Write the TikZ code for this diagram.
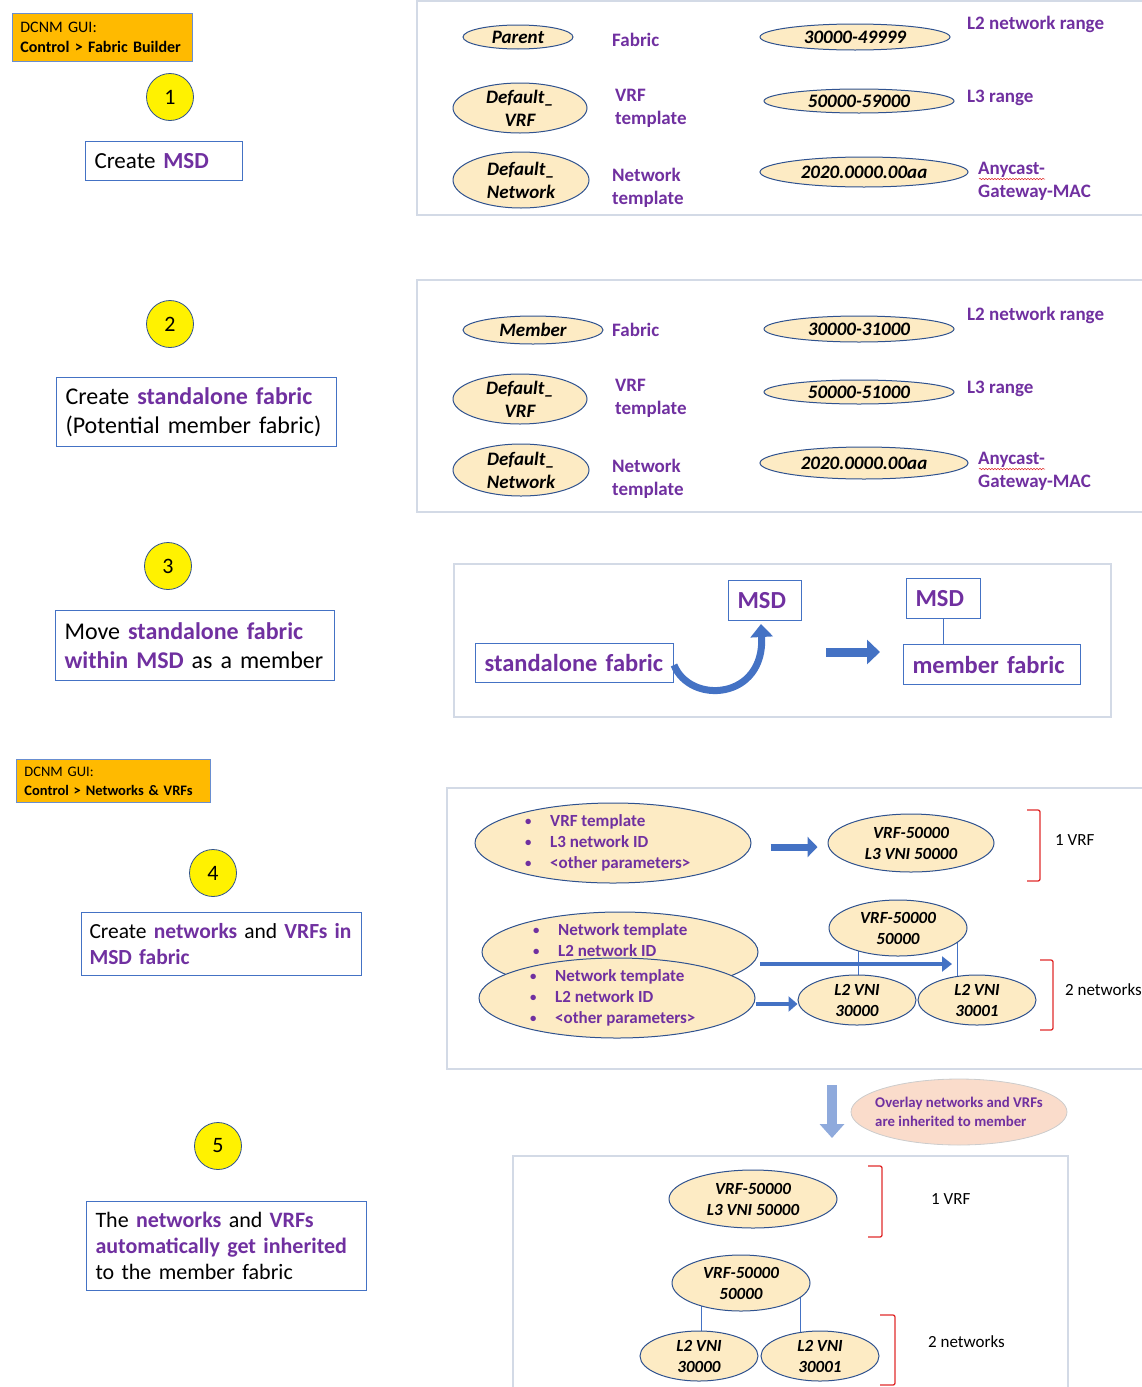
\documentclass[tikz,border=0pt]{standalone}
\usepackage{fontspec}
\setmainfont{Carlito}
\usetikzlibrary{shapes.geometric,arrows.meta,decorations.pathmorphing}
\definecolor{purp}{HTML}{7030A0}
\definecolor{bblue}{HTML}{4472C4}
\definecolor{dblue}{HTML}{2F528F}
\definecolor{tanf}{HTML}{FDEBC4}
\definecolor{orng}{HTML}{FFBA00}
\definecolor{panelc}{HTML}{D3DAE6}
\definecolor{redb}{HTML}{E02B2B}
\definecolor{palebl}{HTML}{8FAADC}
\definecolor{pinkf}{HTML}{FADCCB}
\pgfdeclarelayer{bg}
\pgfsetlayers{bg,main}
\newcommand\bul{\makebox[25pt][l]{\raisebox{1pt}{\scalebox{0.75}{\textbullet}}}}
\newcommand\pb[1]{\textcolor{purp}{\textbf{#1}}}
\begin{document}
\begin{tikzpicture}[x=1pt,y=-1pt,
 ell/.style={ellipse, draw=dblue, line width=1pt, fill=tanf, inner sep=0pt},
 ellt/.style={inner sep=0pt, align=center, font=\fontsize{19}{23}\selectfont\bfseries\itshape},
 ellu/.style={inner sep=0pt, align=center, font=\fontsize{17}{21}\selectfont\bfseries\itshape},
 lab/.style={anchor=west, inner sep=0pt, align=left, text=purp, font=\fontsize{19}{23}\selectfont\bfseries},
 box/.style={anchor=north west, draw=bblue, line width=1pt, fill=white, align=left, inner xsep=9pt, inner ysep=0pt},
 hdr/.style={anchor=north west, draw=bblue!80, line width=0.8pt, fill=orng, align=left, inner xsep=8pt, inner ysep=0pt},
 circ/.style={circle, draw=dblue, line width=0.8pt, fill=yellow, minimum size=47pt, inner sep=0pt, font=\fontsize{22}{22}\selectfont},
 panel/.style={draw=panelc, line width=1.5pt},
 blt/.style={anchor=west, inner sep=0pt, align=left, text=purp, font=\fontsize{17}{21}\selectfont\bfseries},
 bracket/.style={draw=redb, line width=1.3pt, rounded corners=2pt},
 note/.style={anchor=west, inner sep=0pt, font=\fontsize{17}{20}\selectfont},
 link/.style={draw=bblue, line width=0.9pt},
 wavy/.style={draw=redb, line width=0.5pt, decorate, decoration={snake, amplitude=0.7pt, segment length=3pt}},
 mbox/.style={draw=bblue, line width=1pt, fill=white, inner xsep=9pt, inner ysep=0pt, text=purp, font=\fontsize{24.5}{28}\selectfont\bfseries, anchor=north west, align=left}
]
\useasboundingbox (0,0) rectangle (1142,1387);
\clip (0,0) rectangle (1142,1387);

% ---------- left column ----------
\node[hdr, text width=164pt, minimum height=48pt, font=\fontsize{16}{20}\selectfont] (h1) at (12,13) {DCNM GUI:\\\textbf{Control > Fabric Builder}};
\node[circ] (c1) at (170,97) {1};
\node[box, text width=139pt, minimum height=39pt, font=\fontsize{23}{29}\selectfont] (b1) at (85,141) {Create \pb{MSD}};
\node[circ] (c2) at (170,324) {2};
\node[box, text width=262pt, minimum height=69pt, font=\fontsize{24}{29}\selectfont] (b2) at (56,377) {Create \pb{standalone fabric}\\(Potential member fabric)};
\node[circ] (c3) at (168,566) {3};
\node[box, text width=261pt, minimum height=70pt, font=\fontsize{24}{29}\selectfont] (b3) at (55,610) {Move \pb{standalone fabric}\\\pb{within MSD} as a member};
\node[hdr, text width=178pt, minimum height=43pt, font=\fontsize{14.5}{19}\selectfont] (h2) at (16,759) {DCNM GUI:\\\textbf{Control > Networks \& VRFs}};
\node[circ] (c4) at (213,873) {4};
\node[box, inner xsep=8pt, text width=264pt, minimum height=63pt, font=\fontsize{21.5}{26}\selectfont] (b4) at (81,912) {Create \pb{networks} and \pb{VRFs in}\\\pb{MSD fabric}};
\node[circ] (c5) at (218,1146) {5};
\node[box, text width=262pt, minimum height=89pt, font=\fontsize{22}{26}\selectfont] (b5) at (86,1201) {The \pb{networks} and \pb{VRFs}\\\pb{automatically get inherited}\\to the member fabric};

% ---------- panels ----------
\begin{pgfonlayer}{bg}
\draw[panel] (417,1) rectangle (1160,215);
\draw[panel] (417,280) rectangle (1160,512);
\draw[panel] (454,564) rectangle (1111,717);
\draw[panel] (447,788) rectangle (1160,1069);
\draw[panel] (513,1156) rectangle (1068,1400);
\end{pgfonlayer}

% ---------- panel 1 ----------
\node[ell, minimum width=110pt, minimum height=24pt, label={[ellt]center:Parent}] (p1a) at (518,37) {};
\node[ell, minimum width=134pt, minimum height=50pt, label={[ellt]center:Default\_\\VRF}] (p1b) at (520,108) {};
\node[ell, minimum width=136pt, minimum height=56pt, label={[ellt]center:Default\_\\Network}] (p1c) at (521,180) {};
\node[ell, minimum width=190pt, minimum height=26pt, label={[ellt]center:30000-49999}] (p1d) at (855,37) {};
\node[ell, minimum width=190pt, minimum height=24pt, label={[ellt]center:50000-59000}] (p1e) at (859,101) {};
\node[ell, minimum width=208pt, minimum height=30pt, label={[ellt]center:2020.0000.00aa}] (p1f) at (864,172) {};
\node[lab] (l1a) at (612,40) {Fabric};
\node[lab] (l1b) at (615,108.5) {VRF\\template};
\node[lab] (l1c) at (612,187.5) {Network\\template};
\node[lab] (l1d) at (967,24) {L2 network range};
\node[lab] (l1e) at (967,98) {L3 range};
\node[lab] (l1f) at (978,181) {Anycast-\\Gateway-MAC};
\coordinate (w1a) at (979,179);
\coordinate (w1b) at (1045,179);
\draw[wavy] (w1a) -- (w1b);

% ---------- panel 2 ----------
\node[ell, minimum width=140pt, minimum height=28pt, label={[ellt]center:Member}] (p2a) at (533,330) {};
\node[ell, minimum width=134pt, minimum height=50pt, label={[ellt]center:Default\_\\VRF}] (p2b) at (520,399) {};
\node[ell, minimum width=136pt, minimum height=52pt, label={[ellt]center:Default\_\\Network}] (p2c) at (521,470) {};
\node[ell, minimum width=190pt, minimum height=26pt, label={[ellt]center:30000-31000}] (p2d) at (859,329) {};
\node[ell, minimum width=190pt, minimum height=24pt, label={[ellt]center:50000-51000}] (p2e) at (859,392) {};
\node[ell, minimum width=208pt, minimum height=32pt, label={[ellt]center:2020.0000.00aa}] (p2f) at (864,463) {};
\node[lab] (l2a) at (612,330) {Fabric};
\node[lab] (l2b) at (615,398.5) {VRF\\template};
\node[lab] (l2c) at (612,478.5) {Network\\template};
\node[lab] (l2d) at (967,315) {L2 network range};
\node[lab] (l2e) at (967,389) {L3 range};
\node[lab] (l2f) at (978,471) {Anycast-\\Gateway-MAC};
\coordinate (w2a) at (979,469);
\coordinate (w2b) at (1045,469);
\draw[wavy] (w2a) -- (w2b);

% ---------- panel 3 ----------
\node[mbox, text width=180pt, minimum height=39pt] (sf) at (475,643) {standalone fabric};
\node[mbox, text width=55pt, minimum height=40pt] (msd1) at (728,580) {MSD};
\node[mbox, text width=56pt, minimum height=40pt] (msd2) at (906,578) {MSD};
\node[mbox, text width=159pt, minimum height=40pt] (mf) at (903,644) {member fabric};
\draw[link] (msd2.south) -- (msd2.south |- mf.north);
\draw[draw=bblue, line width=7pt, -{Triangle[length=13pt,width=22pt]}] ([yshift=-2pt]sf.east) .. controls (690,705) and (765,700) .. ([xshift=-4pt,yshift=-3pt]msd1.south);
\coordinate (a3a) at (826,652);
\coordinate (a3b) at (880,652);
\draw[draw=bblue, line width=9pt, -{Triangle[length=13pt,width=24pt]}] (a3a) -- (a3b);

% ---------- panel 4 ----------
\node[ell, minimum width=276pt, minimum height=80pt] (v1) at (613,843) {};
\node[blt] (v1t) at (525,843) {\bul VRF template\\\bul L3 network ID\\\bul <other parameters>};
\node[ell, minimum width=166pt, minimum height=58pt, label={[ellu]center:VRF-50000\\L3 VNI 50000}] (vr1) at (911,843) {};
\draw[draw=bblue, line width=7pt, -{Triangle[length=10pt,width=20pt]}] ([xshift=19pt,yshift=-4pt]v1.east) -- ([xshift=-10pt,yshift=-4pt]vr1.west);
\draw[bracket] (1027,810) -- (1040,810) -- (1040,881) -- (1027,881);
\node[note] (nt1) at (1055,840) {1 VRF};

\node[ell, minimum width=276pt, minimum height=80pt] (v2) at (620,952) {};
\node[blt] (v2t) at (533,940.5) {\bul Network template\\\bul L2 network ID};
\node[ell, minimum width=276pt, minimum height=80pt] (v3) at (617,998) {};
\node[blt] (v3t) at (530,998) {\bul Network template\\\bul L2 network ID\\\bul <other parameters>};
\node[ell, minimum width=138pt, minimum height=56pt, label={[ellu]center:VRF-50000\\50000}] (vr2) at (898,928) {};
\node[ell, minimum width=118pt, minimum height=50pt, label={[ellu]center:L2 VNI\\30000}] (n1) at (857,1000) {};
\node[ell, minimum width=118pt, minimum height=50pt, label={[ellu]center:L2 VNI\\30001}] (n2) at (977,1000) {};
\begin{pgfonlayer}{bg}
\draw[link] ([xshift=-40pt]vr2.center) -- ([xshift=1pt]n1.center);
\draw[link] ([xshift=59pt]vr2.center) -- ([xshift=-20pt]n2.center);
\end{pgfonlayer}
\coordinate (a4a) at (760,964);
\coordinate (a4b) at (952,964);
\draw[draw=bblue, line width=4.5pt, -{Triangle[length=10pt,width=15pt]}] (a4a) -- (a4b);
\draw[draw=bblue, line width=4.5pt, -{Triangle[length=9pt,width=15pt]}] ([yshift=-6pt]v3.east) -- ([yshift=-4pt]n1.west);
\draw[bracket] (1040,960) -- (1053,960) -- (1053,1030) -- (1040,1030);
\node[note] (nt2) at (1065,990) {2 networks};

% ---------- inheritance ----------
\coordinate (a5a) at (832,1085);
\coordinate (a5b) at (832,1138);
\draw[draw=palebl, line width=10pt, -{Triangle[length=14pt,width=24pt]}] (a5a) -- (a5b);
\node[ellipse, draw=gray!40, line width=0.8pt, fill=pinkf, minimum width=216pt, minimum height=66pt, inner sep=0pt,
  label={[inner sep=0pt, align=left, text=purp, font=\fontsize{14.8}{19}\selectfont\bfseries]center:Overlay networks and VRFs\\are inherited to member}] (pk) at (959,1112) {};

% ---------- panel 5 ----------
\node[ell, minimum width=168pt, minimum height=58pt, label={[ellu]center:VRF-50000\\L3 VNI 50000}] (w1) at (753,1199) {};
\draw[bracket] (868,1166) -- (882,1166) -- (882,1237) -- (868,1237);
\node[note] (nt3) at (931,1199) {1 VRF};
\node[ell, minimum width=138pt, minimum height=56pt, label={[ellu]center:VRF-50000\\50000}] (w2) at (741,1283) {};
\node[ell, minimum width=118pt, minimum height=50pt, label={[ellu]center:L2 VNI\\30000}] (m1) at (699,1356) {};
\node[ell, minimum width=118pt, minimum height=50pt, label={[ellu]center:L2 VNI\\30001}] (m2) at (820,1356) {};
\begin{pgfonlayer}{bg}
\draw[link] ([xshift=-40pt]w2.center) -- ([xshift=2pt]m1.center);
\draw[link] ([xshift=59pt]w2.center) -- ([xshift=-20pt]m2.center);
\end{pgfonlayer}
\draw[bracket] (880,1315) -- (895,1315) -- (895,1385) -- (880,1385);
\node[note] (nt4) at (928,1342) {2 networks};
\end{tikzpicture}
\end{document}
